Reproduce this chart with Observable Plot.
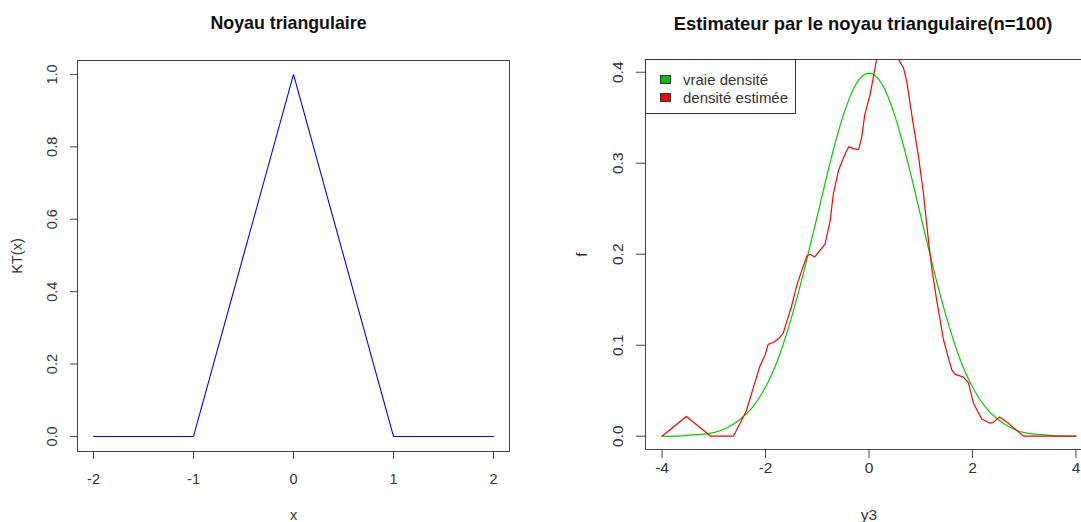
<!DOCTYPE html>
<html>
<head>
<meta charset="utf-8">
<script src="https://cdn.jsdelivr.net/npm/d3@7"></script>
<script src="https://cdn.jsdelivr.net/npm/@observablehq/plot@0.6"></script>
<style>
  html, body { margin: 0; padding: 0; background: white; }
  #wrap { position: relative; width: 1081px; height: 522px; overflow: hidden; background: white; font-family: "Liberation Sans", Arial, sans-serif; }
  #wrap svg { position: absolute; top: 0; }
  #legend { position: absolute; left: 645px; top: 59px; width: 151px; height: 55px; border: 1px solid #333; background: white; box-sizing: border-box; }
  .lg-row { position: absolute; left: 0; height: 18px; font-size: 15px; color: #333; line-height: 18px; }
  .lg-sw { position: absolute; left: 14px; top: 4px; width: 11px; height: 9px; border: 1px solid #333; box-sizing: border-box; }
  .lg-tx { position: absolute; left: 37px; top: 0; white-space: nowrap; }
</style>
</head>
<body>
<div id="wrap"></div>
<script>
// ---- Left panel data: triangular kernel
const kernelX = [-2, -1, 0, 1, 2];
const kernelY = [0, 0, 1, 0, 0];
const leftXTicks = [-2, -1, 0, 1, 2];
const leftYTicks = [0, 0.2, 0.4, 0.6, 0.8, 1.0];

// ---- Right panel data
// true density (vraie densité)
const trueX = [-4, -3.75, -3.5, -3.25, -3, -2.75, -2.5, -2.25, -2, -1.75, -1.5, -1.25, -1, -0.75, -0.5, -0.25, 0,
               0.25, 0.5, 0.75, 1, 1.25, 1.5, 1.75, 2, 2.25, 2.5, 2.75, 3, 3.25, 3.5, 3.75, 4];
const trueY = [0.000, 0.000, 0.001, 0.002, 0.004, 0.009, 0.018, 0.032, 0.054, 0.086, 0.130, 0.183, 0.242, 0.301, 0.352, 0.387, 0.399,
               0.387, 0.352, 0.301, 0.242, 0.183, 0.130, 0.086, 0.054, 0.032, 0.018, 0.009, 0.004, 0.002, 0.001, 0.000, 0.000];
// estimated density (densité estimée)
const estX = [-4, -3.53, -3.06, -2.62, -2.37, -2.21, -2.11, -2.01, -1.95, -1.85, -1.75, -1.66, -1.50, -1.40, -1.30, -1.20, -1.14,
              -1.05, -0.95, -0.85, -0.75, -0.69, -0.59, -0.50, -0.43, -0.39, -0.30, -0.20, -0.14, -0.08, 0.02, 0.085, 0.15,
              0.25, 0.40, 0.52, 0.58, 0.665, 0.73, 0.83, 0.955, 1.05, 1.15, 1.215, 1.31, 1.44, 1.535, 1.60, 1.665, 1.825,
              1.92, 2.02, 2.18, 2.34, 2.41, 2.52, 2.665, 2.99, 4];
const estY = [0, 0.0216, 0, 0, 0.028, 0.058, 0.077, 0.089, 0.101, 0.103, 0.107, 0.113, 0.142, 0.165, 0.182, 0.198, 0.200,
              0.197, 0.204, 0.211, 0.237, 0.266, 0.292, 0.305, 0.314, 0.318, 0.316, 0.315, 0.329, 0.354, 0.375, 0.395, 0.415,
              0.428, 0.432, 0.420, 0.413, 0.405, 0.390, 0.352, 0.308, 0.268, 0.215, 0.184, 0.149, 0.106, 0.086, 0.073, 0.068, 0.065,
              0.059, 0.036, 0.019, 0.0143, 0.0155, 0.021, 0.0155, 0, 0];
const rightXTicks = [-4, -2, 0, 2, 4];
const rightYTicks = [0, 0.1, 0.2, 0.3, 0.4];
const legendLabels = ["vraie densité", "densité estimée"];
const legendColors = ["#00cd00", "#ff0000"];

const FONT = "'Liberation Sans', Arial, sans-serif";
const wrap = document.getElementById("wrap");

const kernelData = kernelX.map((x, i) => ({x, y: kernelY[i]}));
const trueData = trueX.map((x, i) => ({x, y: trueY[i]}));
const estData = estX.map((x, i) => ({x, y: estY[i]}));

const left = Plot.plot({
  width: 540, height: 522,
  marginLeft: 77, marginRight: 31, marginTop: 60, marginBottom: 71,
  x: {domain: [-2.16, 2.16]},
  y: {domain: [-0.0415, 1.0385]},
  style: {fontFamily: FONT, background: "transparent", overflow: "visible"},
  marks: [
    Plot.line(kernelData, {x: "x", y: "y", stroke: "#0000ff", strokeWidth: 1.1}),
    Plot.frame({stroke: "#444", strokeWidth: 1}),
    Plot.axisX(leftXTicks, {tickSize: 8, tickFormat: () => "", label: null, stroke: "#444"}),
    Plot.text(leftXTicks, {x: d => d, text: d => String(d), frameAnchor: "bottom", dy: 28, lineAnchor: "middle", textAnchor: "middle", fontSize: 14.5, fill: "#333"}),
    Plot.axisY(leftYTicks, {tickSize: 7, tickFormat: () => "", label: null, stroke: "#444"}),
    Plot.text(leftYTicks, {y: d => d, text: d => d3.format(".1f")(d), frameAnchor: "left", dx: -25, rotate: -90, textAnchor: "middle", lineAnchor: "middle", fontSize: 14.5, fill: "#333"}),
    Plot.text(["Noyau triangulaire"], {text: d => d, frameAnchor: "top", dx: -5, dy: -37, lineAnchor: "middle", textAnchor: "middle", fontSize: 17.8, fontWeight: "bold", fill: "#111"}),
    Plot.text(["x"], {text: d => d, frameAnchor: "bottom", dy: 64, lineAnchor: "middle", textAnchor: "middle", fontSize: 14.5, fill: "#333"}),
    Plot.text(["KT(x)"], {text: d => d, frameAnchor: "left", dx: -60, rotate: -90, lineAnchor: "middle", textAnchor: "middle", fontSize: 14.5, fill: "#333"})
  ]
});
left.style.left = "0px";
wrap.appendChild(left);

const right = Plot.plot({
  width: 552, height: 522,
  marginLeft: 85, marginRight: 20, marginTop: 59, marginBottom: 73,
  x: {domain: [-4.32, 4.32]},
  y: {domain: [-0.0146, 0.414]},
  style: {fontFamily: FONT, background: "transparent", overflow: "visible"},
  marks: [
    Plot.line(trueData, {x: "x", y: "y", stroke: legendColors[0], strokeWidth: 1.2, curve: "natural", clip: true}),
    Plot.line(estData, {x: "x", y: "y", stroke: legendColors[1], strokeWidth: 1.2, clip: true}),
    Plot.frame({stroke: "#444", strokeWidth: 1}),
    Plot.axisX(rightXTicks, {tickSize: 9, tickFormat: () => "", label: null, stroke: "#444"}),
    Plot.text(rightXTicks, {x: d => d, text: d => String(d), frameAnchor: "bottom", dy: 19, lineAnchor: "middle", textAnchor: "middle", fontSize: 15.5, fill: "#333"}),
    Plot.axisY(rightYTicks, {tickSize: 9, tickFormat: () => "", label: null, stroke: "#444"}),
    Plot.text(rightYTicks, {y: d => d, text: d => d3.format(".1f")(d), frameAnchor: "left", dx: -27, rotate: -90, textAnchor: "middle", lineAnchor: "middle", fontSize: 15.5, fill: "#333"}),
    Plot.text(["Estimateur par le noyau triangulaire(n=100)"], {text: d => d, frameAnchor: "top", dx: -6, dy: -35, lineAnchor: "middle", textAnchor: "middle", fontSize: 18.4, fontWeight: "bold", fill: "#111"}),
    Plot.text(["y3"], {text: d => d, frameAnchor: "bottom", dy: 66, lineAnchor: "middle", textAnchor: "middle", fontSize: 15.5, fill: "#333"}),
    Plot.text(["f"], {text: d => d, frameAnchor: "left", dx: -63, rotate: -90, lineAnchor: "middle", textAnchor: "middle", fontSize: 15.5, fill: "#333"})
  ]
});
right.style.left = "560px";
wrap.appendChild(right);

// legend box (drawn over the top-left corner of the right panel)
const legend = document.createElement("div");
legend.id = "legend";
legendLabels.forEach((lab, i) => {
  const row = document.createElement("div");
  row.className = "lg-row";
  row.style.top = (11 + i * 18) + "px";
  row.style.width = "100%";
  const sw = document.createElement("div");
  sw.className = "lg-sw";
  sw.style.background = legendColors[i] === "#00cd00" ? "#00c000" : legendColors[i];
  const tx = document.createElement("div");
  tx.className = "lg-tx";
  tx.textContent = lab;
  row.appendChild(sw);
  row.appendChild(tx);
  legend.appendChild(row);
});
wrap.appendChild(legend);
</script>
</body>
</html>
